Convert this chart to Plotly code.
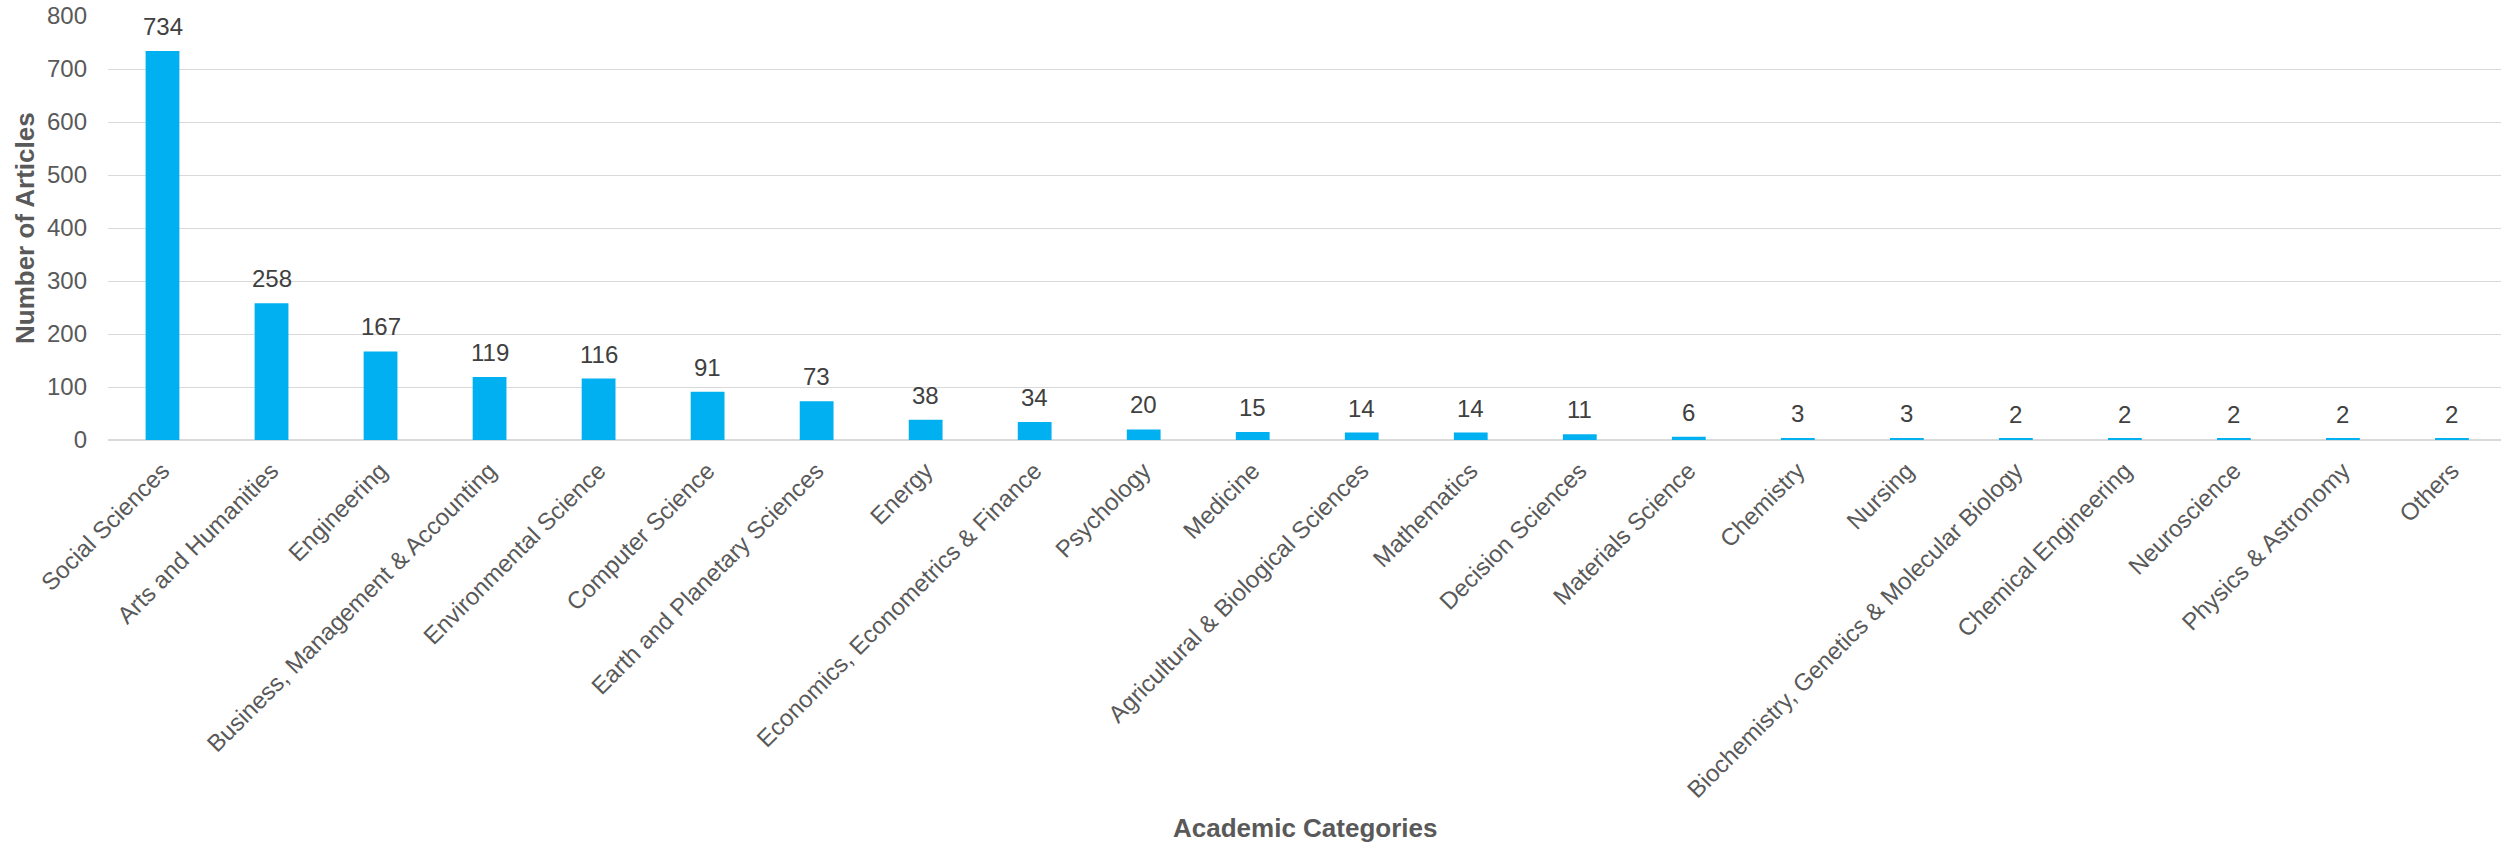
import plotly.graph_objects as go

categories = [
    "Social Sciences", "Arts and Humanities", "Engineering",
    "Business, Management & Accounting", "Environmental Science",
    "Computer Science", "Earth and Planetary Sciences", "Energy",
    "Economics, Econometrics & Finance", "Psychology", "Medicine",
    "Agricultural & Biological Sciences", "Mathematics", "Decision Sciences",
    "Materials Science", "Chemistry", "Nursing",
    "Biochemistry, Genetics & Molecular Biology", "Chemical Engineering",
    "Neuroscience", "Physics & Astronomy", "Others",
]
articles = [734, 258, 167, 119, 116, 91, 73, 38, 34, 20, 15, 14, 14, 11, 6, 3, 3, 2, 2, 2, 2, 2]
y_ticks = [0, 100, 200, 300, 400, 500, 600, 700, 800]

FONT = "Arial, Liberation Sans, sans-serif"
BAR = "#00B0F0"
GRID = "#D9D9D9"
TICK = "#595959"
LABEL = "#404040"

fig = go.Figure()
fig.add_trace(go.Bar(
    x=categories, y=articles, marker_color=BAR, marker_line_width=0,
    width=0.31, hoverinfo="x+y",
))

for c, v in zip(categories, articles):
    fig.add_annotation(
        x=c, y=v, text=str(v), showarrow=False, yanchor="bottom",
        yshift=9, font=dict(family=FONT, size=24, color=LABEL),
    )

fig.add_annotation(
    xref="paper", yref="paper", x=0.5, y=0, yshift=-388,
    text="<b>Academic Categories</b>", showarrow=False,
    xanchor="center", yanchor="middle",
    font=dict(family=FONT, size=26, color=TICK),
)
fig.add_annotation(
    xref="paper", yref="paper", x=0, xshift=-83, y=0.5,
    text="<b>Number of Articles</b>", showarrow=False, textangle=-90,
    xanchor="center", yanchor="middle",
    font=dict(family=FONT, size=26, color=TICK),
)

fig.update_layout(
    width=2501, height=843,
    margin=dict(l=108, r=0, t=16, b=403),
    plot_bgcolor="white", paper_bgcolor="white",
    showlegend=False,
    bargap=0.69,
    font=dict(family=FONT, size=24, color=TICK),
)
fig.update_xaxes(
    type="category", range=[-0.5, 21.45],
    tickangle=-45, tickfont=dict(family=FONT, size=24, color=TICK),
    showgrid=False, showline=False, ticks="", ticklabelstandoff=11,
)
fig.update_yaxes(
    range=[0, 800], tickvals=y_ticks,
    tickfont=dict(family=FONT, size=24, color=TICK),
    showgrid=True, gridcolor=GRID, gridwidth=1.3,
    zeroline=True, zerolinecolor=GRID, zerolinewidth=1.5,
    showline=False, ticks="", ticklabelstandoff=20,
)

fig.write_html("out.html")
